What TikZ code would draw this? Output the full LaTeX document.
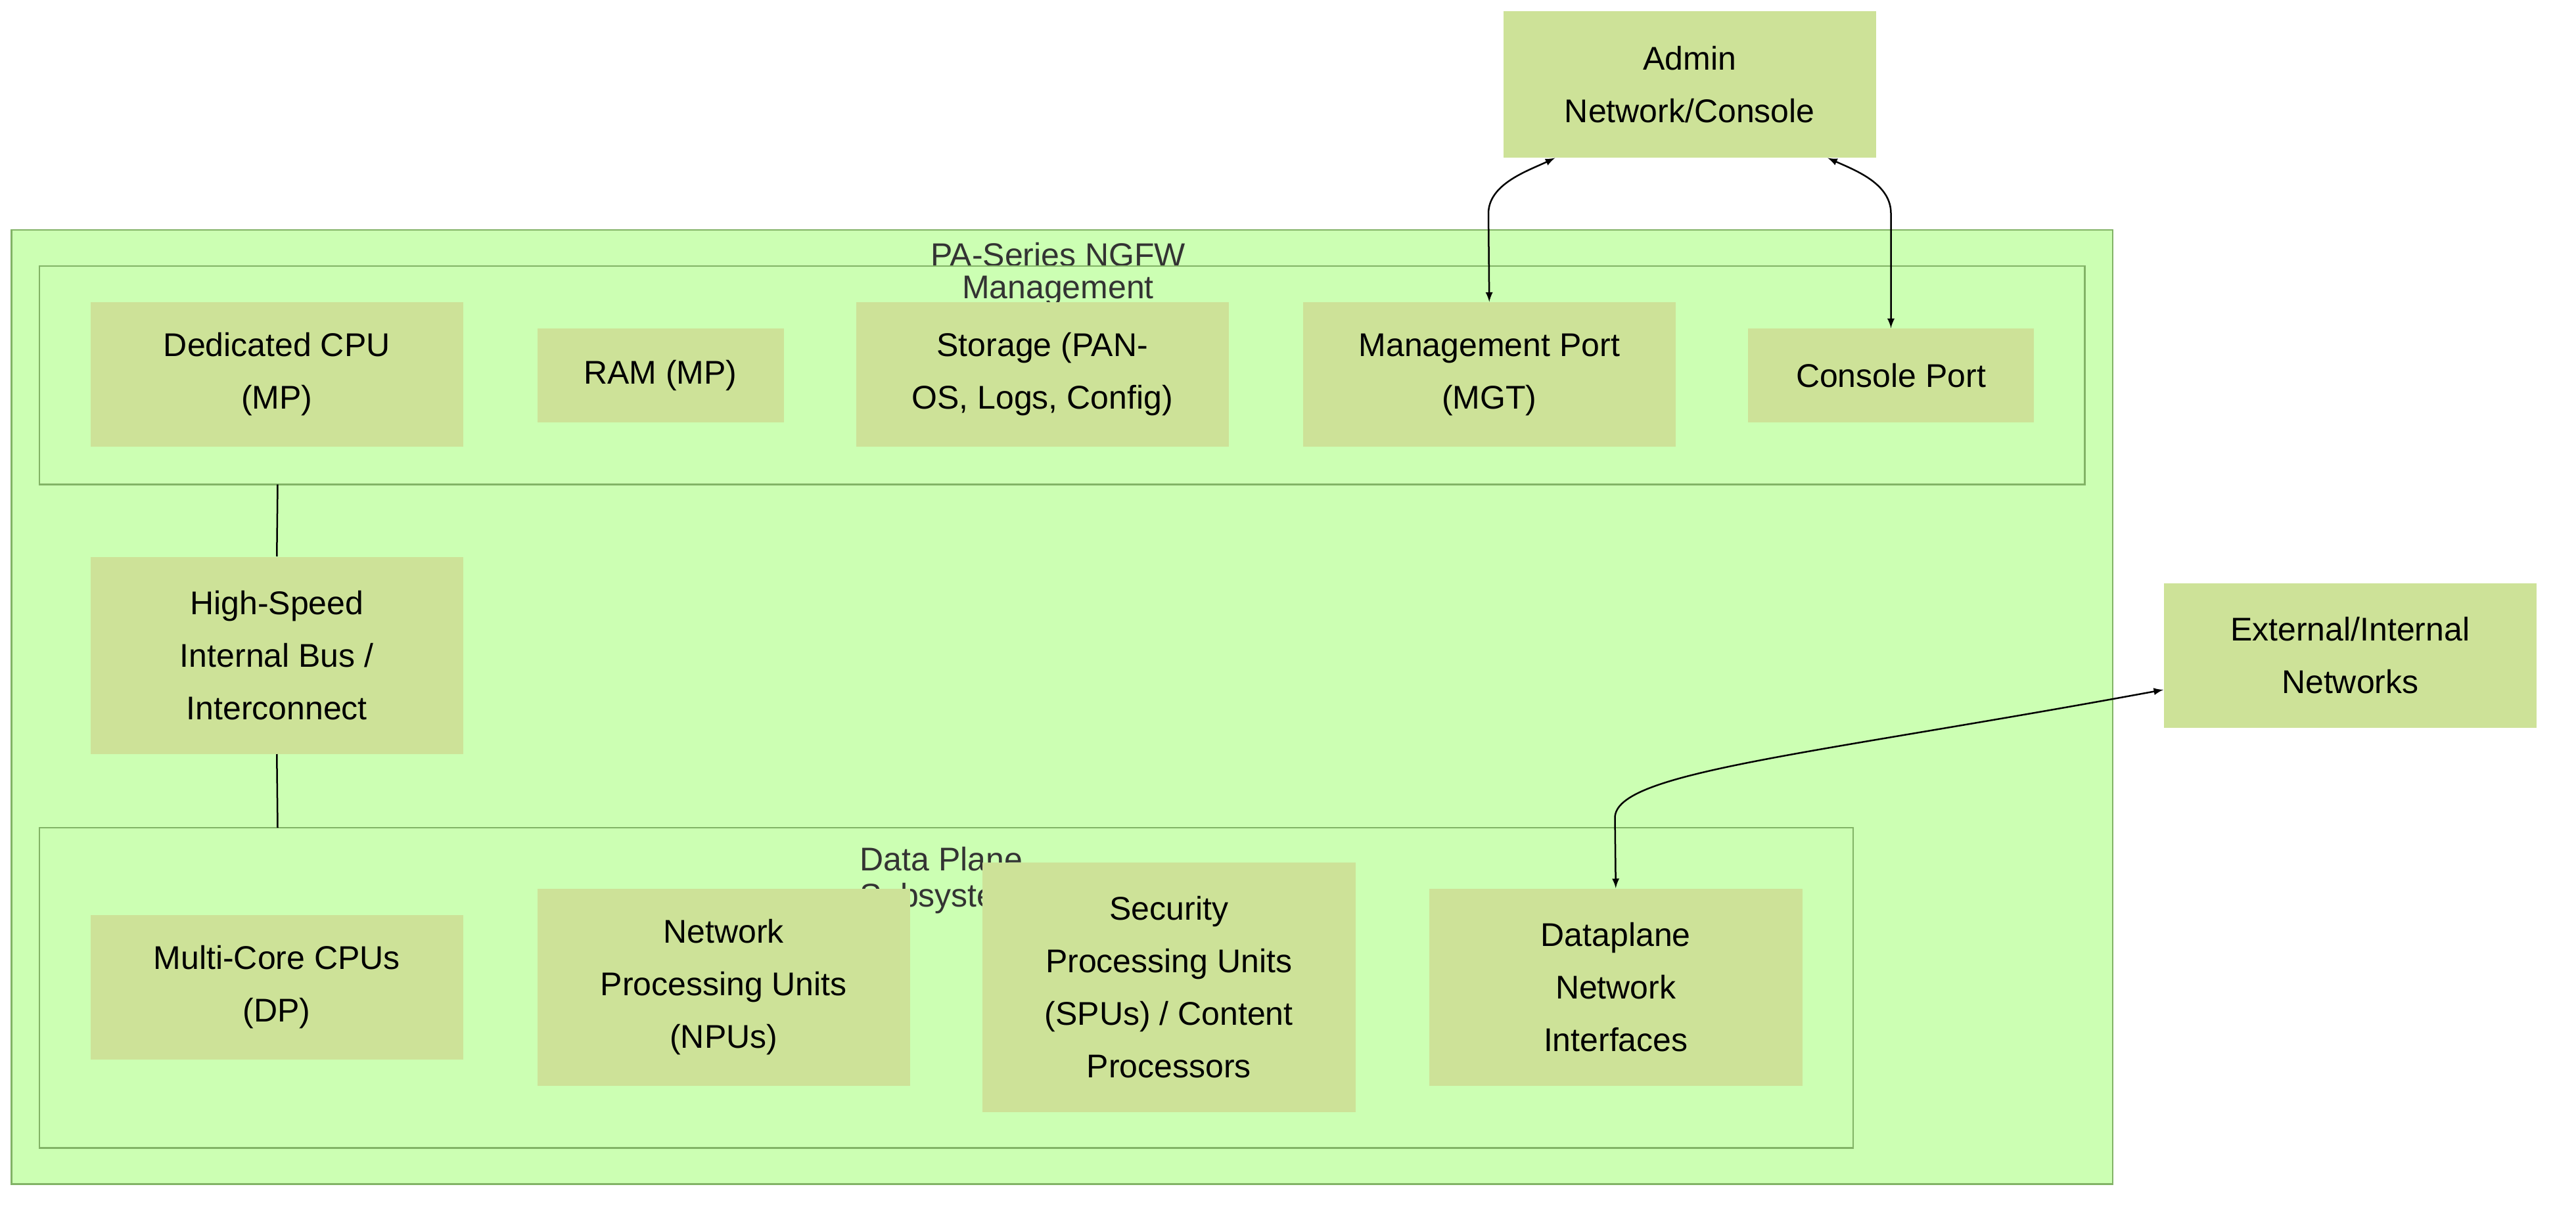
\documentclass[tikz,border=0pt]{standalone}
\usepackage{fontspec}
\setmainfont{Liberation Sans}
\begin{document}
\begin{tikzpicture}[x=1pt,y=-1pt,
  clus/.style={draw=clborder,fill=clfill,line width=1pt},
  box/.style={fill=boxfill,align=center,font=\fontsize{20}{32}\selectfont},
  ttl/.style={text=ttlc,align=center,font=\fontsize{20}{22}\selectfont},
  conn/.style={line width=1pt,black},
  arr/.style={conn,<->,>=latex}]
\definecolor{clfill}{RGB}{204,255,179}
\definecolor{clborder}{RGB}{130,179,102}
\definecolor{boxfill}{RGB}{205,226,152}
\definecolor{ttlc}{RGB}{51,51,51}
\useasboundingbox (0,0) rectangle (1568,738);
\draw[clus] (7,140) rectangle (1286,721);
\node[ttl] (t1) at (644,155) {PA-Series NGFW};
\draw[clus] (24,162) rectangle (1269,295);
\coordinate (mgb) at (169,295);
\node[ttl] (t2) at (644,177) {Management};
\draw[clus] (24,504) rectangle (1128,699);
\coordinate (dpt) at (169,504);
\node[ttl,text depth=0pt] (t3) at (573,534) {Data Plane\\Subsystem};
\newcommand{\bx}[6]{\node[box,minimum width=#4-#2,minimum height=#5-#3] (#1) at ({(#2+#4)/2},{(#3+#5)/2}) {#6};}
\bx{admin}{915}{7}{1142}{96}{Admin\\Network/Console}
\bx{ext}{1317}{355}{1544}{443}{External/Internal\\Networks}
\bx{cpu}{55}{184}{282}{272}{Dedicated CPU\\(MP)}
\bx{ram}{327}{200}{477}{257}{RAM (MP)}
\bx{sto}{521}{184}{748}{272}{Storage (PAN-\\OS, Logs, Config)}
\bx{mgt}{793}{184}{1020}{272}{Management Port\\(MGT)}
\bx{con}{1064}{200}{1238}{257}{Console Port}
\bx{bus}{55}{339}{282}{459}{High-Speed\\Internal Bus /\\Interconnect}
\bx{mc}{55}{557}{282}{645}{Multi-Core CPUs\\(DP)}
\bx{npu}{327}{541}{554}{661}{Network\\Processing Units\\(NPUs)}
\bx{spu}{598}{525}{825}{677}{Security\\Processing Units\\(SPUs) / Content\\Processors}
\bx{dni}{870}{541}{1097}{661}{Dataplane\\Network\\Interfaces}
\draw[conn] (mgb) -- (bus.north);
\draw[conn] (bus.south) -- (dpt);
\draw[arr] (mgt.north) -- (906,130) .. controls (906,112) and (930,104) .. ([xshift=-82pt]admin.south);
\draw[arr] (con.north) -- (1151,130) .. controls (1151,112) and (1130,104) .. ([xshift=84pt]admin.south);
\draw[arr] (dni.north) -- (983,498) .. controls (983,470) and (1100,460) .. ([yshift=-21pt]ext.west);
\end{tikzpicture}
\end{document}
